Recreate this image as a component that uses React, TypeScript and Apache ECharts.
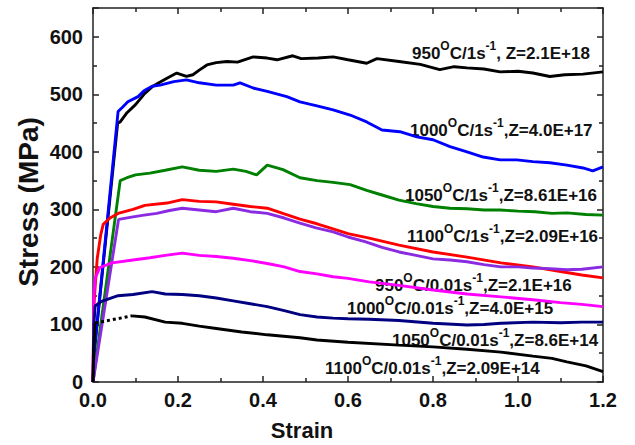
import React, { useEffect, useRef } from "react";
import * as echarts from "echarts";

// ---- data (strain, stress MPa) ----
const s950_1: number[][] = [[0,0],[0.004,60],[0.058,450],[0.064,452],[0.08,468],[0.1,482],[0.12,500],[0.139,513],[0.155,520],[0.174,528],[0.197,537],[0.22,531],[0.235,534],[0.25,542],[0.268,551],[0.29,555],[0.315,557],[0.34,556],[0.377,565],[0.41,563],[0.433,560],[0.47,567],[0.49,562],[0.53,563],[0.565,565],[0.6,560],[0.644,554],[0.668,562],[0.72,557],[0.77,552],[0.816,543],[0.85,548],[0.88,546],[0.92,544],[0.958,539],[1.0,540],[1.035,537],[1.075,531],[1.11,534],[1.153,535],[1.2,539]];
const s1000_1: number[][] = [[0,0],[0.004,60],[0.059,470],[0.07,478],[0.082,487],[0.106,496],[0.12,506],[0.139,514],[0.158,516],[0.19,522],[0.22,525],[0.25,520],[0.29,516],[0.33,516],[0.346,520],[0.377,511],[0.41,505],[0.456,496],[0.487,487],[0.527,480],[0.565,473],[0.605,464],[0.644,452],[0.68,438],[0.722,435],[0.762,426],[0.8,421],[0.84,409],[0.88,400],[0.918,391],[0.958,386],[0.997,386],[1.035,383],[1.075,381],[1.115,377],[1.153,372],[1.176,367],[1.2,374]];
const s1050_1: number[][] = [[0,0],[0.064,350],[0.08,355],[0.1,360],[0.134,363],[0.17,368],[0.21,374],[0.25,368],[0.29,366],[0.33,370],[0.36,366],[0.385,360],[0.41,377],[0.447,369],[0.487,355],[0.527,350],[0.565,347],[0.605,343],[0.644,333],[0.68,325],[0.72,316],[0.76,310],[0.8,305],[0.84,302],[0.88,301],[0.92,299],[0.958,299],[1.0,297],[1.04,296],[1.08,293],[1.115,294],[1.16,291],[1.2,290]];
const s950_001: number[][] = [[0,0],[0.002,130],[0.005,165],[0.01,215],[0.018,255],[0.024,274],[0.04,285],[0.059,293],[0.094,300],[0.122,307],[0.174,311],[0.21,317],[0.25,314],[0.29,313],[0.33,309],[0.37,305],[0.41,302],[0.45,292],[0.487,283],[0.527,275],[0.565,266],[0.6,258],[0.65,250],[0.72,238],[0.8,226],[0.88,217],[0.96,207],[1.035,200],[1.1,192],[1.15,186],[1.2,181]];
const s1100_1: number[][] = [[0,0],[0.06,282],[0.064,283],[0.094,287],[0.12,290],[0.15,293],[0.18,298],[0.21,302],[0.25,299],[0.29,296],[0.33,302],[0.37,296],[0.41,293],[0.45,285],[0.487,276],[0.525,268],[0.565,261],[0.6,252],[0.64,244],[0.68,234],[0.72,226],[0.76,220],[0.8,214],[0.84,212],[0.88,209],[0.92,204],[0.96,200],[1.0,200],[1.035,198],[1.075,197],[1.115,195],[1.15,196],[1.2,200]];
const s1000_001: number[][] = [[0,0],[0.002,150],[0.005,180],[0.016,199],[0.045,207],[0.094,212],[0.134,216],[0.17,220],[0.21,224],[0.25,220],[0.29,218],[0.33,215],[0.37,211],[0.41,206],[0.45,200],[0.487,192],[0.527,188],[0.565,183],[0.6,180],[0.65,174],[0.72,168],[0.8,160],[0.88,153],[0.96,148],[1.035,143],[1.1,138],[1.15,135],[1.2,131]];
const s1050_001: number[][] = [[0,0],[0.002,100],[0.005,132],[0.02,140],[0.059,150],[0.094,152],[0.139,157],[0.17,153],[0.21,152],[0.25,150],[0.29,146],[0.33,141],[0.37,136],[0.41,131],[0.45,124],[0.487,117],[0.527,113],[0.565,111],[0.6,110],[0.65,109],[0.72,107],[0.8,102],[0.88,99],[0.92,100],[0.96,102],[1.035,104],[1.1,103],[1.15,104],[1.2,104]];
const s1100_001_start: number[][] = [[0,0],[0.002,60],[0.005,103]];
const s1100_001_dotted: number[][] = [[0.005,103],[0.016,104],[0.05,109],[0.092,115]];
const s1100_001: number[][] = [[0.092,115],[0.122,113],[0.17,104],[0.21,102],[0.25,97],[0.29,93],[0.35,87],[0.41,82],[0.487,77],[0.527,73],[0.6,69],[0.72,64],[0.8,61],[0.88,57],[0.96,52],[1.035,45],[1.08,41],[1.115,35],[1.16,28],[1.2,18]];

// label texts: [temperature, rate, Z]
const labelTemps = ["950", "1000", "1050", "1100", "950", "1000", "1050", "1100"];
const labelRates = ["1s", "1s", "1s", "1s", "0.01s", "0.01s", "0.01s", "0.01s"];
const labelZ = [", Z=2.1E+18", ",Z=4.0E+17", ",Z=8.61E+16", ",Z=2.09E+16", ",Z=2.1E+16", ",Z=4.0E+15", ",Z=8.6E+14", ",Z=2.09E+14"];

const xTicks = { min: 0, max: 1.2, interval: 0.2 };
const yTicks = { min: 0, max: 650, interval: 100 };

const FONT = '"Liberation Sans", Arial, sans-serif';

export default function App() {
  const ref = useRef<HTMLDivElement>(null);
  useEffect(() => {
    if (!ref.current) return;
    const chart = echarts.init(ref.current, undefined, { renderer: "svg" });

    const line = (data: number[][], color: string, type: string = "solid", width = 2.9) => ({
      type: "line",
      data,
      showSymbol: false,
      symbol: "none",
      lineStyle: { color, width, type },
      silent: true,
    });

    const axisCommon = {
      axisLine: { show: true, onZero: false, lineStyle: { color: "#222", width: 1.5 } },
      axisTick: { show: true, inside: true, length: 6, lineStyle: { color: "#222", width: 1.5 } },
      minorTick: { show: true, splitNumber: 2, length: 4, lineStyle: { color: "#222", width: 1.5 } },
      splitLine: { show: false },
    };

    const labelPos = [
      [412, 51], [410, 128], [405, 193], [407, 234],
      [375, 283], [347, 306], [392, 338], [325, 366],
    ];

    const rich = {
      n: { fontSize: 17, fontWeight: "bold", fontFamily: FONT, fill: "#111", lineHeight: 22, verticalAlign: "bottom" },
      o: { fontSize: 12, fontWeight: "bold", fontFamily: FONT, fill: "#111", lineHeight: 14, verticalAlign: "top" },
      s: { fontSize: 12, fontWeight: "bold", fontFamily: FONT, fill: "#111", lineHeight: 12, verticalAlign: "top" },
    };

    const labels = labelTemps.map((t, i) => ({
      type: "text",
      x: labelPos[i][0],
      y: labelPos[i][1],
      silent: true,
      style: {
        text: `{n|${t}}{o|O}{n|C/${labelRates[i]}}{s|-1}{n|${labelZ[i]}}`,
        rich,
        verticalAlign: "middle",
        align: "left",
      },
    }));

    chart.setOption({
      animation: false,
      backgroundColor: "#fff",
      grid: { left: 93, right: 32, top: 8, bottom: 63, containLabel: false },
      xAxis: [
        {
          type: "value",
          ...xTicks,
          position: "bottom",
          ...axisCommon,
          axisLabel: {
            show: true,
            margin: 8,
            fontSize: 20,
            fontWeight: "bold",
            fontFamily: FONT,
            color: "#111",
            formatter: (v: number) => v.toFixed(1),
          },
        },
        {
          type: "value",
          ...xTicks,
          position: "top",
          ...axisCommon,
          axisLabel: { show: false },
        },
      ],
      yAxis: [
        {
          type: "value",
          ...yTicks,
          position: "left",
          ...axisCommon,
          axisLabel: {
            show: true,
            margin: 10,
            fontSize: 20,
            fontWeight: "bold",
            fontFamily: FONT,
            color: "#111",
            formatter: (v: number) => (v % 100 === 0 ? String(v) : ""),
          },
        },
        {
          type: "value",
          ...yTicks,
          position: "right",
          ...axisCommon,
          axisLabel: { show: false },
        },
      ],
      series: [
        line(s950_1, "#000000"),
        line(s1000_1, "#0000ff"),
        line(s1050_1, "#008000"),
        line(s950_001, "#ff0000"),
        line(s1100_1, "#8a2be2"),
        line(s1000_001, "#ff00ff"),
        line(s1050_001, "#000080"),
        line(s1100_001_start, "#000000"),
        line(s1100_001_dotted, "#000000", "dotted", 3),
        line(s1100_001, "#000000"),
      ],
      graphic: [
        ...labels,
        {
          type: "text",
          x: 302,
          y: 430,
          silent: true,
          style: { text: "Strain", font: `bold 22px ${FONT}`, fill: "#111", align: "center", verticalAlign: "middle" },
        },
        {
          type: "text",
          x: 28,
          y: 202,
          rotation: Math.PI / 2,
          silent: true,
          style: { text: "Stress (MPa)", font: `bold 28px ${FONT}`, fill: "#111", align: "center", verticalAlign: "middle" },
        },
      ],
    });

    return () => chart.dispose();
  }, []);

  return (
    <div
      ref={ref}
      style={{ position: "fixed", left: 0, top: 0, width: 635, height: 445, background: "#fff" }}
    />
  );
}
